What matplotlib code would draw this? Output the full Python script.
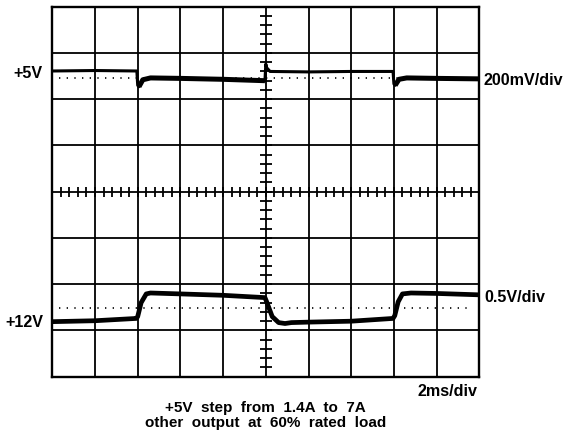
import matplotlib
matplotlib.use("Agg")
import matplotlib.pyplot as plt
import numpy as np

plt.rcParams['font.family'] = ['Liberation Sans', 'DejaVu Sans']

# scope traces (x in divisions, y in divisions from bottom)
t5 = [0, 1.0, 1.98, 2.0, 2.03, 2.12, 2.3, 3.0, 4.0, 4.98, 5.0, 5.02, 5.1, 6.0, 7.0, 7.98, 8.0, 8.03, 8.12, 8.3, 9.0, 10]
v5 = [6.61, 6.62, 6.61, 6.30, 6.27, 6.42, 6.46, 6.45, 6.43, 6.40, 6.76, 6.68, 6.60, 6.59, 6.60, 6.60, 6.33, 6.30, 6.43, 6.46, 6.45, 6.44]

t12 = [0, 1.0, 1.97, 2.0, 2.08, 2.2, 2.3, 3.0, 4.0, 4.98, 5.02, 5.15, 5.3, 5.45, 5.6, 6.0, 7.0, 7.98, 8.02, 8.1, 8.2, 8.4, 9.0, 10]
v12 = [1.19, 1.21, 1.26, 1.30, 1.60, 1.79, 1.81, 1.79, 1.76, 1.71, 1.62, 1.30, 1.17, 1.15, 1.17, 1.18, 1.20, 1.26, 1.32, 1.62, 1.79, 1.81, 1.80, 1.77]

ref5 = 6.45   # dotted reference level, +5V
ref12 = 1.48  # dotted reference level, +12V

fig = plt.figure(figsize=(5.66, 4.36), dpi=100)
ax = fig.add_axes([52.3/566, 1-376.7/436, 427/566, 370/436])
ax.set_xlim(0, 10)
ax.set_ylim(0, 8)
ax.set_xticks(range(11))
ax.set_yticks(range(9))
ax.grid(True, color='black', lw=1.3)
ax.tick_params(length=0, labelbottom=False, labelleft=False)
for s in ax.spines.values():
    s.set_linewidth(1.7)

# center graticule minor ticks
mx = np.arange(0, 10.01, 0.2)
my = np.arange(0, 8.01, 0.2)
ax.plot(mx, [4]*len(mx), ls='none', marker='|', ms=7, mew=1.3, color='black', clip_on=False)
ax.plot([5]*len(my), my, ls='none', marker='_', ms=8, mew=1.3, color='black', clip_on=False)

# dotted reference lines
ax.plot([0.15, 9.85], [ref5, ref5], color='black', lw=1.2, ls=(0, (0.8, 3.8)))
ax.plot([0.15, 9.85], [ref12, ref12], color='black', lw=1.2, ls=(0, (0.8, 3.8)))

ax.plot(t5, v5, color='black', lw=2.2, solid_joinstyle='round')
# noisier (thicker) low-state parts of the +5V trace
ax.plot(t5[4:10], v5[4:10], color='black', lw=3.6, solid_capstyle='butt')
ax.plot(t5[17:], v5[17:], color='black', lw=3.6, solid_capstyle='butt')
ax.plot(t12, v12, color='black', lw=3.4, solid_joinstyle='round')

fs = 11.6
ax.text(-0.22, 6.55, '+5V', ha='right', va='center', fontsize=fs, fontweight='bold', clip_on=False)
ax.text(-0.22, 1.18, '+12V', ha='right', va='center', fontsize=fs, fontweight='bold', clip_on=False)
ax.text(10.11, 6.41, '200mV/div', ha='left', va='center', fontsize=fs, fontweight='bold', clip_on=False)
ax.text(10.13, 1.72, '0.5V/div', ha='left', va='center', fontsize=fs, fontweight='bold', clip_on=False)
ax.text(9.95, -0.32, '2ms/div', ha='right', va='center', fontsize=fs, fontweight='bold', clip_on=False)
ax.text(5.0, -0.68, '+5V  step  from  1.4A  to  7A', ha='center', va='center', fontsize=11, fontweight='bold', clip_on=False)
ax.text(5.0, -1.0, 'other  output  at  60%  rated  load', ha='center', va='center', fontsize=11, fontweight='bold', clip_on=False)

fig.savefig('out.png', dpi=100, facecolor='white')
